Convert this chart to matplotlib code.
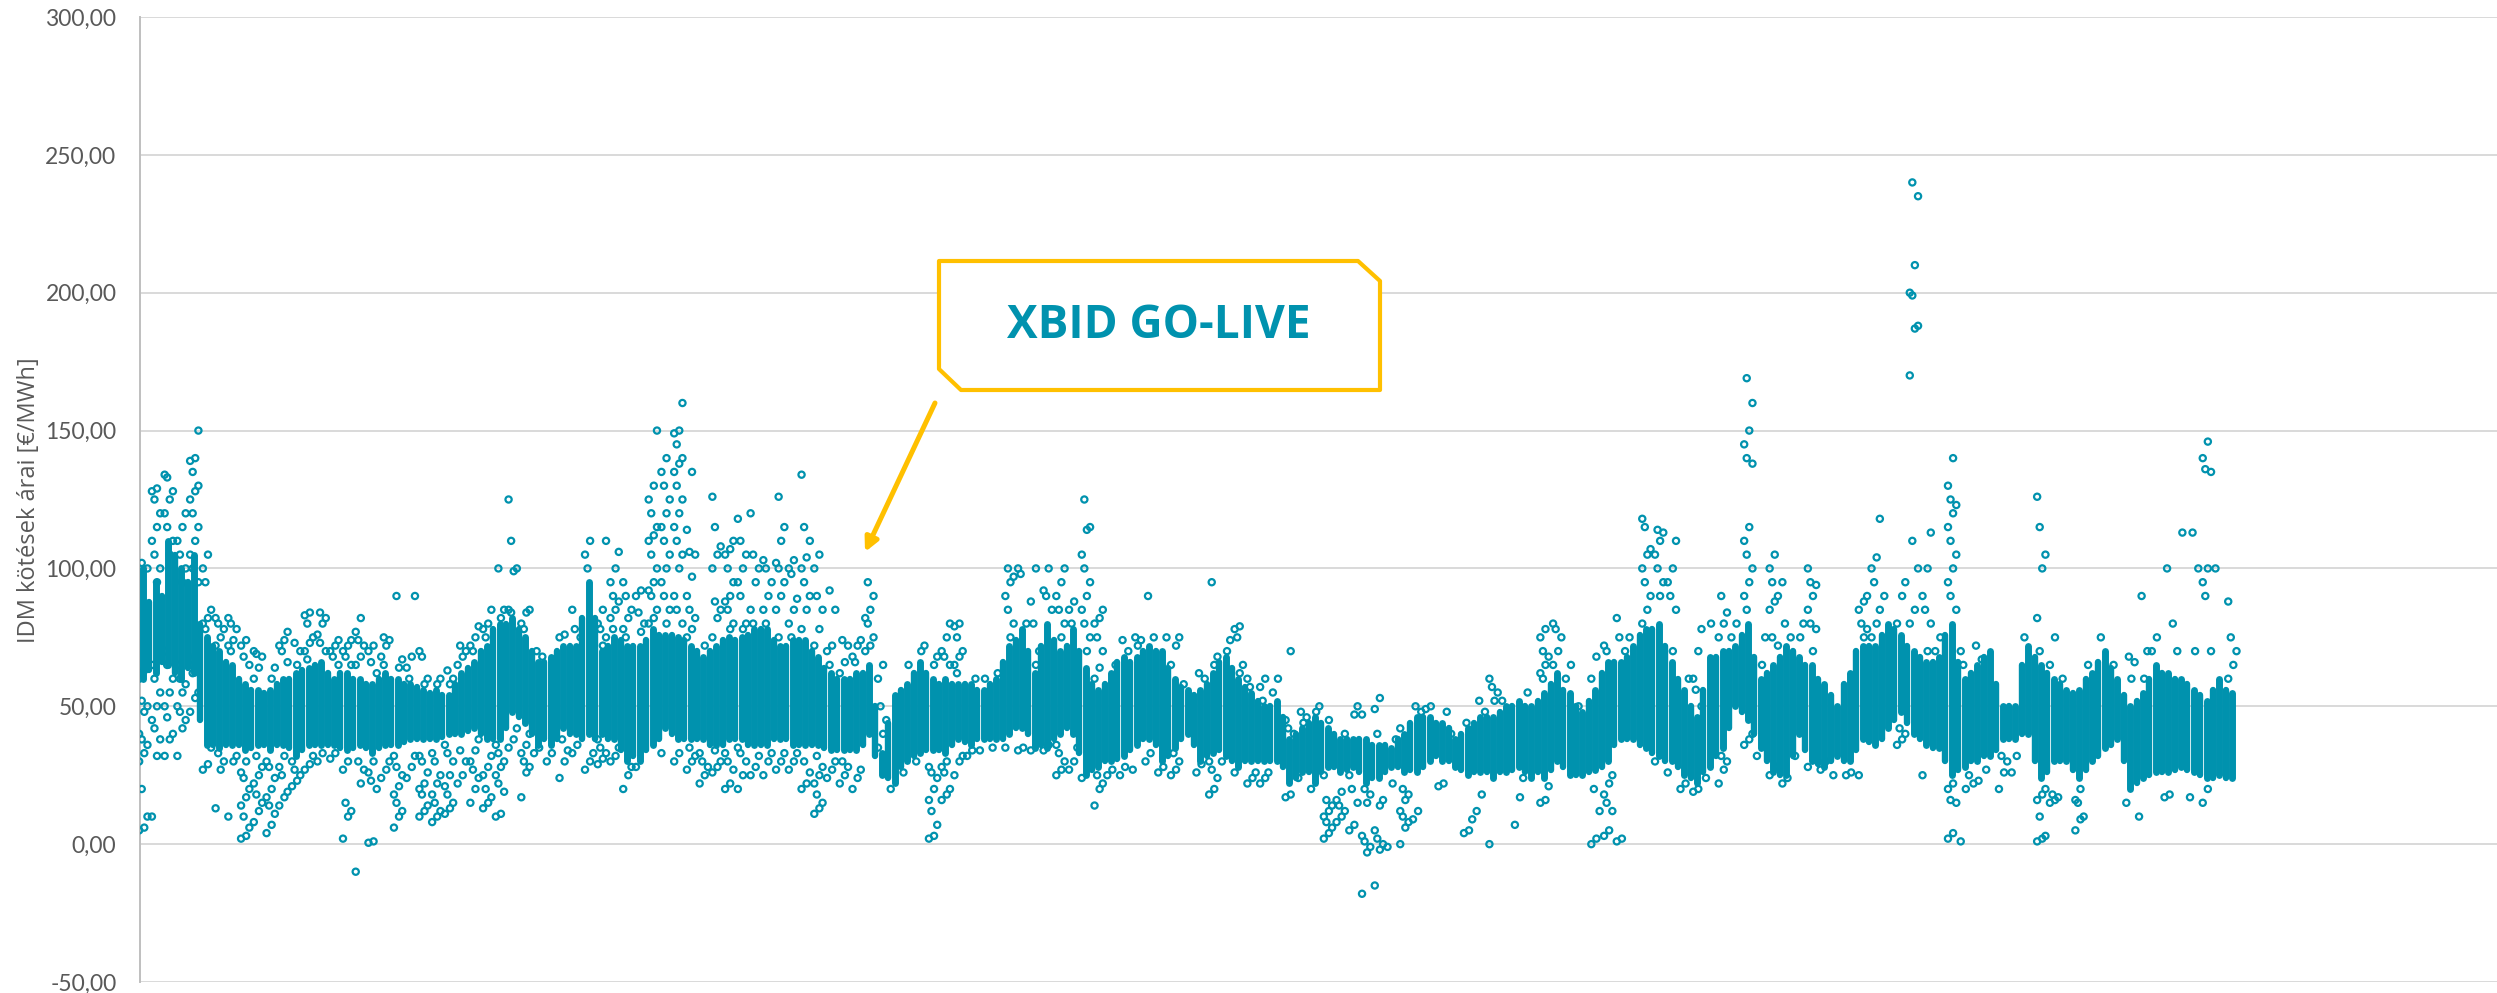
import matplotlib as mpl
mpl.use('Agg')
import matplotlib.pyplot as plt
from matplotlib.patches import Polygon, FancyArrowPatch

W, H = 2497, 993

y_ticks = [-50, 0, 50, 100, 150, 200, 250, 300]
y_title = 'IDM kötések árai [€/MWh]'
callout_text = 'XBID GO-LIVE'

# dense band of the deals, one low/high per column
core_low = [60,62,65,60,62,36,35,36,34,36,
            34,36,32,36,36,36,34,36,33,36,
            36,38,38,38,40,40,42,38,38,48,
            44,36,36,42,40,40,40,38,30,30,
            36,42,38,38,38,36,38,38,36,36,
            38,36,36,36,34,34,34,40,25,22,
            30,33,34,33,38,36,38,38,40,42,
            35,35,40,40,25,28,30,32,36,38,
            30,35,40,30,33,32,28,30,30,30,
            22,26,22,28,26,28,22,24,28,26,
            26,30,30,28,25,26,24,26,28,24,
            24,30,25,25,27,30,38,38,35,32,
            30,25,22,28,35,50,45,35,26,25,
            40,30,28,32,30,38,36,42,48,40,
            36,35,25,28,30,32,38,38,40,24,
            30,30,24,30,35,38,20,24,26,26,
            28,26,24,25,24]
core_high = [100,95,110,100,105,75,70,65,58,56,
             56,60,62,64,66,60,62,60,58,62,
             60,58,56,56,54,62,66,72,80,82,
             75,66,68,72,72,95,70,75,72,72,
             78,76,75,72,68,72,75,75,78,78,
             72,74,74,68,62,60,62,65,33,54,
             58,66,60,60,58,58,56,60,72,78,
             62,80,70,78,64,56,62,68,68,72,
             70,60,56,56,62,68,60,55,50,52,
             38,42,46,42,38,38,38,36,35,40,
             46,46,44,38,42,46,46,50,52,50,
             55,62,55,48,56,66,66,72,78,80,
             66,56,46,68,70,72,80,60,65,72,
             68,65,58,50,62,72,72,80,76,70,
             66,68,80,60,65,70,50,50,72,65,
             60,56,56,62,70,60,50,55,65,62,
             60,56,52,60,55]

# same band read half a column further on
mid_low = [63,66,62,64,45,36,36,36,35,36,
           36,35,34,36,36,35,35,35,35,36,
           37,38,38,39,40,41,40,38,42,46,
           40,38,38,40,38,38,38,34,32,34,
           38,40,38,38,36,36,38,36,36,38,
           38,36,36,35,34,34,36,32,24,28,
           32,34,34,36,37,38,38,38,42,40,
           36,38,42,33,27,30,31,34,38,36,
           32,38,36,32,34,30,30,30,30,28,
           24,26,26,28,27,26,24,26,28,27,
           28,32,30,27,26,26,26,27,26,26,
           27,28,25,26,28,36,38,36,33,30,
           28,24,26,32,42,48,40,30,25,32,
           34,29,30,30,34,37,38,45,44,38,
           35,30,27,30,32,34,38,40,30,26,
           30,27,27,32,36,30,22,25,26,27,
           27,25,24,24]
mid_high = [88,90,105,95,80,72,66,60,56,55,
            58,60,63,65,62,62,60,58,60,60,
            58,57,55,54,58,64,70,78,80,78,
            70,66,70,72,82,82,72,74,72,74,
            76,76,74,70,70,74,74,76,78,74,
            72,74,70,64,60,60,62,50,44,56,
            62,62,58,58,58,56,58,66,74,70,
            72,74,72,70,58,58,66,66,70,70,
            64,57,54,58,66,64,57,52,50,46,
            40,44,44,40,38,38,36,36,38,44,
            46,44,42,40,44,46,48,50,50,52,
            58,56,50,52,62,66,68,76,78,72,
            60,50,56,68,70,76,68,62,68,70,
            65,60,54,58,70,72,76,78,72,68,
            66,76,66,62,68,58,50,65,68,62,
            58,55,60,66,64,54,52,60,62,60,
            58,54,56,56]

# single deals outside the band, same columns
stray_prices = [
    [5,6,10,20,30,33,36,38,40,48,50,52,60,63,100,102],
    [10,32,38,42,45,50,55,60,65,95,100,105,110,115,120,125,128,129],
    [32,38,40,46,50,55,60,65,70,105,110,115,120,125,128,133,134],
    [32,42,45,48,50,55,58,60,65,95,100,105,110,115,120],
    [48,53,55,62,65,68,95,100,105,110,115,120,125,128,130,135,139,140,150],
    [27,29,35,78,80,82,85,95,100,105],
    [13,27,30,33,72,75,78,80,82],
    [10,30,32,70,72,74,78,80,82],
    [2,3,6,10,14,17,20,24,26,30,65,68,72,74],
    [8,12,15,18,22,25,28,32,60,64,68,69,70],
    [4,7,11,14,17,20,24,28,30,60,64],
    [14,17,19,25,28,32,66,70,72,74,77],
    [21,23,25,27,30,65,70,73],
    [27,29,32,67,70,73,75,80,83,84],
    [30,33,70,73,76,80,82,84],
    [31,33,65,68,70,72,74],
    [2,10,12,15,27,30,65,68,70,72,74],
    [-10,22,27,30,65,68,72,74,77,82],
    [0.5,1,20,23,26,30,62,66,70,72],
    [24,27,30,65,68,72,74,75],
    [6,10,12,15,18,21,25,28,32,64,67,90],
    [24,28,32,60,64,68,90],
    [10,12,14,18,20,22,26,30,32,58,60,68,70],
    [8,10,12,15,18,22,25,30,33,58,60],
    [11,13,15,18,21,25,30,33,36,58,60,63],
    [22,25,30,34,65,68,70,72],
    [15,20,24,27,30,34,38,70,72,75,79],
    [13,15,17,20,25,28,32,75,78,80,85],
    [10,11,19,22,25,28,30,33,36,82,85,100],
    [35,38,42,84,85,99,100,110,125],
    [17,26,28,30,33,36,40,78,80,84,85],
    [33,35,68,70],
    [30,33],
    [24,30,34,38,75,76],
    [33,36,75,78,85],
    [27,30,33,100,105,110],
    [29,31,33,35,38,72,75,78,80,85,110],
    [30,32,35,78,82,85,88,90,95,100,106],
    [20,25,28,75,78,82,85,90,95],
    [28,77,80,84,90,92],
    [80,82,85,90,92,95,100,105,110,112,115,120,125,130,150],
    [33,80,85,90,95,100,105,110,115,120,125,130,135,140],
    [30,33,80,85,90,100,105,110,115,120,125,130,135,138,140,145,149,150,160],
    [27,30,32,35,75,78,82,85,90,97,105,106,114,135],
    [22,25,28,30,33,72],
    [26,28,30,34,75,82,85,88,100,105,108,115,126],
    [20,22,27,30,33,78,80,85,88,90,95,100,105,107,110],
    [20,25,30,33,35,78,80,90,95,100,105,110,118],
    [25,28,32,80,85,95,100,105,120],
    [25,30,33,80,85,90,95,100,103],
    [27,30,33,75,85,90,95,100,102,110,115,126],
    [27,30,33,75,80,85,89,98,100,103],
    [20,22,26,30,78,85,90,95,100,104,110,115,134],
    [11,13,15,18,22,25,28,32,72,78,85,90,100,105],
    [24,27,30,65,70,72,85,92],
    [22,25,28,30,62,66,72,74],
    [20,24,27,66,68,72,74],
    [70,72,75,80,82,85,90,95],
    [35,40,45,50,60,65],
    [20],
    [26,65],
    [30,70,72],
    [2,3,7,12,16,20,24,26,28,65,68],
    [16,18,20,26,28,30,65,68,70,75,80],
    [25,30,32,62,65,68,70,75,79,80],
    [32,34,60],
    [34,60],
    [35,62],
    [35,75,80,85,90,95,97,100],
    [34,35,80,98,100],
    [34,65,70,80,88,100],
    [34,36,85,90,92,100],
    [25,27,30,33,36,75,80,85,90,95,100],
    [27,30,35,80,85,88],
    [24,70,75,80,85,90,95,100,105,114,115,125],
    [14,20,22,25,60,64,70,75,80,82,85],
    [25,27,65],
    [25,28,70,74],
    [27,72,74,75],
    [30,33,75,90],
    [26,28,75],
    [25,27,30,33,65,72,75],
    [58],
    [26,29,60,62],
    [18,20,24,27,30,65,68,95],
    [30,70,74],
    [26,62,65,75,78,79],
    [22,24,26,57,60],
    [22,24,26,52,57,60],
    [55,60],
    [17,18,40,42,45,70],
    [24,44,46,48],
    [20,48,50],
    [2,4,6,8,10,12,14,16,25,45],
    [8,10,12,14,16,19,40],
    [5,7,15,20,25,47,50],
    [-18,-3,-1,1,3,15,18,20,47],
    [-15,-2,0,2,5,14,16,40,49,53],
    [-1,22,38],
    [0,6,8,10,12,16,18,20,42],
    [9,12,48,50],
    [49,50],
    [21,22,48],
    [40],
    [4,5,9,44],
    [12,18,48,52],
    [0,52,55,57,60],
    [52],
    [7,17,24],
    [55],
    [15,16,21,60,62,65,68,70,75,78],
    [65,70,75,78,80],
    [60,65],
    [50],
    [0,2,12,20,60,68],
    [3,5,12,15,18,22,25,70,72],
    [1,2,70,75,82],
    [75],
    [80,85,90,95,100,105,107,115,118],
    [30,90,95,100,105,110,113,114],
    [26,70,85,90,95,100,110],
    [20,22,60],
    [19,20,50,56,60,70,78],
    [24,80],
    [22,27,30,32,75,80,84,90],
    [75,80],
    [36,38,40,85,90,95,100,105,110,115,138,140,145,150,160,169],
    [32,65,75],
    [25,28,72,75,85,88,90,95,100,105],
    [22,24,75,80,95],
    [32,75,80],
    [28,70,78,80,85,90,94,95,100],
    [27,30],
    [25],
    [25,26],
    [25,75,78,80,85,88,90],
    [75,80,85,95,100,104,118],
    [90],
    [36,38,40,42,80,90,95],
    [80,85,100,110,170,187,188,199,200,210,235,240],
    [25,70,80,85,90,100,113],
    [70,75],
    [2,4,15,16,20,22,85,90,95,100,105,110,115,120,123,125,130,140],
    [1,20,25,65,70],
    [22,23,67,72],
    [27],
    [20,26,30,32],
    [26,32],
    [75],
    [1,2,3,10,16,18,20,70,82,100,105,115,126],
    [15,16,17,18,65,75],
    [60],
    [5,9,10,15,16,20],
    [65],
    [75],
    [65],
    [15,60,66,68],
    [10,60,70,90],
    [70,75],
    [17,18,80,100],
    [70,113],
    [17,70,100,113],
    [15,20,70,90,95,100,135,136,140,146],
    [100],
    [60,65,70,75,88],
]

teal = '#0092AE'
gold = '#FFC000'
grey = '#595959'
offsets = [-0.3, 0.1, 0.35, -0.1]

fig = plt.figure(figsize=(W / 100, H / 100), dpi=100)
ax = fig.add_axes([140 / W, 1 - 982 / H, (W - 140) / W, (982 - 17) / H])

columns = list(range(len(core_low)))
ax.vlines(columns, core_low, core_high, color=teal, linewidth=5, capstyle='round', zorder=3)
mid_columns = [c + 0.5 for c in columns[:len(mid_low)]]
ax.vlines(mid_columns, mid_low, mid_high, color=teal, linewidth=4.6, capstyle='round', zorder=3)

stray_x = []
stray_y = []
for col, prices in enumerate(stray_prices):
    for n, price in enumerate(prices):
        stray_x.append(col + offsets[n % 4])
        stray_y.append(price)
ax.scatter(stray_x, stray_y, s=20, facecolors='none', edgecolors=teal, linewidths=1.6, zorder=4)

ax.set_xlim(-0.235, 184.8)
ax.set_ylim(-50, 300)
ax.set_xticks([])
ax.set_yticks(y_ticks)
ax.set_yticklabels([f'{v},00' for v in y_ticks], family='Lato', fontsize=16.5, color=grey)
ax.tick_params(axis='y', length=0, pad=17)
ax.grid(True, axis='y', color='#D9D9D9', linewidth=1.4, zorder=0)
ax.set_axisbelow(True)
for side in ['top', 'right', 'bottom']:
    ax.spines[side].set_visible(False)
ax.spines['left'].set_color('#BFBFBF')
ax.spines['left'].set_linewidth(1.4)

fig.text(29 / W, 1 - 500 / H, y_title, rotation=90, va='center', ha='center',
         family='Open Sans', fontsize=17, color=grey)


def fx(px):
    return px / W


def fy(px):
    return 1 - px / H


box = Polygon([(fx(939), fy(261)), (fx(1358), fy(261)), (fx(1380), fy(281)), (fx(1380), fy(390)),
               (fx(961), fy(390)), (fx(939), fy(369))], closed=True, transform=fig.transFigure,
              facecolor='white', edgecolor=gold, linewidth=3, joinstyle='round', zorder=6)
fig.add_artist(box)
fig.text(fx(1159), fy(326), callout_text, ha='center', va='center', family='Open Sans',
         fontweight='bold', fontsize=33, color=teal, zorder=7)
arrow = FancyArrowPatch((fx(935), fy(403)), (fx(865), fy(552)), transform=fig.transFigure,
                        arrowstyle='-|>', mutation_scale=20, color=gold, linewidth=3.6,
                        shrinkA=0, shrinkB=0, zorder=6)
fig.add_artist(arrow)

fig.savefig('out.png', dpi=100)
